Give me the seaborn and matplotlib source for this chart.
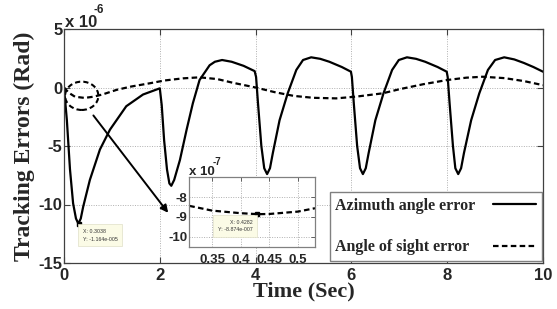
import matplotlib
matplotlib.use("Agg")
import matplotlib.pyplot as plt
import seaborn as sns
import pandas as pd
from matplotlib.patches import Ellipse

# ---------------- data (values in units of 1e-6 rad) ----------------
az_time = [0.00, 0.06, 0.125, 0.19, 0.25, 0.30, 0.35, 0.40, 0.54, 0.75, 0.96, 1.30, 1.65, 2.00,
           2.04, 2.09, 2.15, 2.20, 2.24, 2.30, 2.42, 2.56, 2.69, 2.83, 3.04, 3.15, 3.30, 3.50, 3.75, 3.98,
           4.01, 4.05, 4.12, 4.18, 4.24, 4.30, 4.36, 4.50, 4.67, 4.85, 4.99, 5.16, 5.35, 5.54, 5.80, 5.99,
           6.01, 6.05, 6.12, 6.18, 6.24, 6.30, 6.36, 6.50, 6.67, 6.85, 6.99, 7.16, 7.35, 7.54, 7.80, 7.99,
           8.01, 8.05, 8.12, 8.17, 8.23, 8.29, 8.35, 8.50, 8.67, 8.85, 9.00, 9.19, 9.40, 9.60, 9.80, 10.0]
az_err = [0.0, -2.8, -7.0, -9.9, -11.2, -11.64, -11.2, -10.2, -7.9, -5.3, -3.6, -1.6, -0.6, -0.07,
          -1.5, -4.5, -7.0, -8.2, -8.4, -7.9, -6.2, -3.6, -1.35, 0.64, 1.9, 2.2, 2.35, 2.2, 1.85, 1.4,
          0.9, -1.35, -5.0, -6.9, -7.4, -6.9, -5.6, -2.8, -0.5, 1.5, 2.35, 2.58, 2.45, 2.2, 1.75, 1.35,
          0.9, -1.35, -5.0, -6.9, -7.4, -6.9, -5.6, -2.8, -0.5, 1.5, 2.35, 2.58, 2.45, 2.2, 1.75, 1.35,
          0.9, -1.35, -5.0, -6.9, -7.4, -6.9, -5.6, -2.8, -0.5, 1.5, 2.35, 2.58, 2.4, 2.1, 1.75, 1.35]

los_time = [0.0, 0.1, 0.23, 0.43, 0.61, 0.8, 1.1, 1.4, 1.79, 2.1, 2.48, 2.83, 3.2, 3.53, 4.0,
            4.4, 4.8, 5.2, 5.68, 6.1, 6.65, 7.0, 7.5, 8.0, 8.4, 8.74, 9.2, 9.6, 10.0]
los_err = [0.0, -0.45, -0.79, -0.89, -0.79, -0.6, -0.2, 0.08, 0.36, 0.6, 0.78, 0.87, 0.72, 0.4, 0.0,
           -0.4, -0.72, -0.88, -0.93, -0.78, -0.5, -0.15, 0.28, 0.64, 0.84, 0.92, 0.8, 0.55, 0.2]

# inset (units of 1e-7 rad)
ins_time = [0.31, 0.35, 0.40, 0.43, 0.45, 0.50, 0.53]
ins_err = [-8.44, -8.68, -8.81, -8.86, -8.85, -8.73, -8.56]

main_xticks = [0, 2, 4, 6, 8, 10]
main_yticks = [-15, -10, -5, 0, 5]
ins_xticks = [0.35, 0.4, 0.45, 0.5]
ins_xticklabels = ["0.35", "0.4", "0.45", "0.5"]
ins_yticks = [-10, -9, -8]

tip_main = (0.3038, -11.64, "X: 0.3038\nY: -1.164e-005")
tip_ins = (0.4282, -8.874, "X: 0.4282\nY: -8.874e-007")

labels = ["Azimuth angle error", "Angle of sight error"]

# ---------------- style ----------------
sns.set_theme(style="white")
plt.rcParams["font.family"] = ["Liberation Sans", "DejaVu Sans"]
plt.rcParams["xtick.direction"] = "in"
plt.rcParams["ytick.direction"] = "in"

SERIF = ["Liberation Serif", "DejaVu Serif"]
DASH = (0, (2.5, 1.5))
GRID = dict(color="#b0b0b0", linestyle=(0, (1, 1.5)), linewidth=0.7)

fig = plt.figure(figsize=(5.57, 3.09), dpi=100)
ax = fig.add_axes([64 / 557, 1 - 263 / 309, 479 / 557, 234 / 309])

df_az = pd.DataFrame({"t": az_time, "e": az_err})
df_los = pd.DataFrame({"t": los_time, "e": los_err})
sns.lineplot(data=df_az, x="t", y="e", ax=ax, color="black", lw=1.6, label=labels[0], sort=False)
sns.lineplot(data=df_los, x="t", y="e", ax=ax, color="black", lw=1.6, linestyle=DASH, label=labels[1], sort=False)

ax.set_xlim(0, 10)
ax.set_ylim(-15, 5)
ax.set_xticks(main_xticks)
ax.set_yticks(main_yticks)
ax.set_xticklabels([str(v) for v in main_xticks])
ax.set_yticklabels([str(v) for v in main_yticks])
ax.tick_params(axis="both", labelsize=12, length=4, width=0.8, color="#404040",
               top=True, right=True, bottom=True, left=True)
ax.tick_params(axis="x", pad=3.5)
ax.tick_params(axis="y", pad=1)
for lab in ax.get_xticklabels() + ax.get_yticklabels():
    lab.set_fontweight("bold")
ax.grid(True, **GRID)
for s in ax.spines.values():
    s.set_color("#404040")
    s.set_linewidth(0.9)

ax.set_xlabel("Time (Sec)", family=SERIF, fontweight="bold", fontsize=16)
ax.set_ylabel("Tracking Errors (Rad)", family=SERIF, fontweight="bold", fontsize=17)
ax.xaxis.set_label_coords(0.5, -0.08)
ax.yaxis.set_label_coords(-0.061, 0.5)

fig.text(65 / 557, 1 - 27 / 309, "x 10", fontsize=12, fontweight="bold", va="baseline", ha="left")
fig.text(93 / 557, 1 - 13 / 309, "-6", fontsize=8.5, fontweight="bold", va="baseline", ha="left")

# dashed ellipse + arrow
ax.add_patch(Ellipse((0.37, -0.71), 0.695, 2.42, fill=False, ec="black", lw=1.5, ls=DASH))
ax.annotate("", xy=(2.21, -10.9), xytext=(0.578, -2.2),
            arrowprops=dict(arrowstyle="-|>", color="black", lw=1.4, mutation_scale=11))

# data tip on main
ax.plot([tip_main[0]], [tip_main[1]], marker="s", ms=3.5, color="black", ls="none")
ax.annotate(tip_main[2], xy=(tip_main[0], tip_main[1]), xytext=(3, -4), textcoords="offset points",
            ha="left", va="top", fontsize=3.8, color="#333333", linespacing=1.6,
            bbox=dict(boxstyle="square,pad=0.9", fc="#fbfbe6", ec="#e0e0c8", lw=0.5))

# legend (text on the left, line sample on the right)
leg = ax.legend(loc="lower right", bbox_to_anchor=(541.7 / 557, 1 - 260.7 / 309),
                bbox_transform=fig.transFigure, borderaxespad=0, markerfirst=False,
                frameon=True, fancybox=False, framealpha=1, edgecolor="#808080",
                prop=dict(family=SERIF, weight="bold", size=11.5),
                handlelength=2.7, handletextpad=1.1, labelspacing=1.6, borderpad=0.35)
leg.get_frame().set_linewidth(1.0)

# left-align the label texts while keeping the line samples aligned on the right
try:
    fig.canvas.draw()
    rend = fig.canvas.get_renderer()
    col = leg._legend_handle_box.get_children()[0]
    rows = col.get_children()
    widths = [t.get_window_extent(rend).width for t in leg.get_texts()]
    maxw = max(widths)
    for row, w in zip(rows, widths):
        row.sep += (maxw - w) * 72.0 / fig.dpi
except Exception:
    pass

# inset
ins = fig.add_axes([189.3 / 557, 1 - 246.7 / 309, 125.7 / 557, 69.4 / 309])
df_ins = pd.DataFrame({"t": ins_time, "e": ins_err})
sns.lineplot(data=df_ins, x="t", y="e", ax=ins, color="black", lw=1.6, linestyle=DASH, legend=False)
ins.set_xlim(0.31, 0.53)
ins.set_ylim(-10.5, -7)
ins.set_xticks(ins_xticks)
ins.set_xticklabels(ins_xticklabels)
ins.set_yticks(ins_yticks)
ins.set_yticklabels([str(v) for v in ins_yticks])
ins.set_xlabel("")
ins.set_ylabel("")
ins.tick_params(axis="both", labelsize=9.5, length=3, width=0.7, color="#606060",
                top=True, right=True)
ins.tick_params(axis="x", pad=5)
ins.tick_params(axis="y", pad=1.5)
for lab in ins.get_xticklabels() + ins.get_yticklabels():
    lab.set_fontweight("bold")
ins.grid(True, **GRID)
for s in ins.spines.values():
    s.set_color("#808080")
    s.set_linewidth(0.9)
ins.plot([tip_ins[0]], [tip_ins[1]], marker="s", ms=3.5, color="black", ls="none")
ins.annotate(tip_ins[2], xy=(tip_ins[0], tip_ins[1]), xytext=(-3, -4), textcoords="offset points",
             ha="right", va="top", fontsize=3.8, color="#333333", linespacing=1.6,
             bbox=dict(boxstyle="square,pad=0.9", fc="#fbfbe6", ec="#e0e0c8", lw=0.5))

fig.text(189 / 557, 1 - 175 / 309, "x 10", fontsize=9.5, fontweight="bold", va="baseline", ha="left")
fig.text(213 / 557, 1 - 165 / 309, "-7", fontsize=7, fontweight="bold", va="baseline", ha="left")

fig.savefig("out.png", dpi=100)
